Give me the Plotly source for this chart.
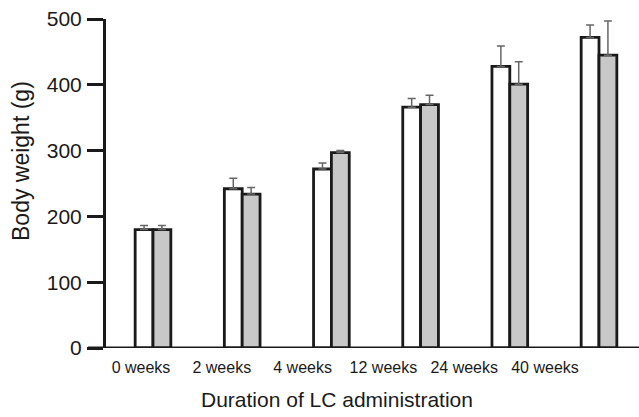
import plotly.graph_objects as go

categories = ["0 weeks", "2 weeks", "4 weeks", "12 weeks", "24 weeks", "40 weeks"]
control_vals = [180, 242, 272, 366, 428, 472]
control_err = [6, 16, 9, 13, 31, 19]
lc_vals = [180, 234, 297, 370, 401, 445]
lc_err = [6, 10, 3, 14, 34, 52]
y_ticks = [0, 100, 200, 300, 400, 500]

W, H = 639, 417
L, R, T, B = 106, 0, 19, 69
pw = W - L - R

ink = "#1a1a1a"
txt = "#1a1a1a"
font_family = "Liberation Sans, Arial, sans-serif"

fig = go.Figure()
fig.add_trace(go.Bar(
    x=categories, y=control_vals, name="Control",
    marker=dict(color="white", line=dict(color=ink, width=2.8)),
    error_y=dict(type="data", symmetric=False, array=control_err,
                 arrayminus=[0] * len(control_err), color="#666666",
                 thickness=1.5, width=4),
    showlegend=False,
))
fig.add_trace(go.Bar(
    x=categories, y=lc_vals, name="LC",
    marker=dict(color="#c8c8c8", line=dict(color=ink, width=2.8)),
    error_y=dict(type="data", symmetric=False, array=lc_err,
                 arrayminus=[0] * len(lc_err), color="#666666",
                 thickness=1.5, width=4),
    showlegend=False,
))
# label axis (category labels drawn on a separate overlaid axis)
fig.add_trace(go.Scatter(
    x=categories, y=[0] * len(categories), xaxis="x2", mode="none",
    showlegend=False, hoverinfo="skip",
))

# bar axis scale: first group centre at 153 px, last at 599 px
s1 = (599 - 153) / 5
r1 = [-(153 - L) / s1, 5 + (W - 599) / s1]
# label axis scale: first label centre 141 px, last 545 px
s2 = (545 - 141) / 5
r2 = [-(141 - L) / s2, 5 + (W - 545) / s2]

fig.update_layout(
    width=W, height=H,
    margin=dict(l=L, r=R, t=T, b=B),
    paper_bgcolor="white", plot_bgcolor="white",
    barmode="group", bargap=0.6, bargroupgap=0,
    font=dict(family=font_family, color=txt),
    xaxis=dict(type="category", range=r1, showticklabels=False,
               showline=False, ticks="", showgrid=False, zeroline=False,
               fixedrange=True),
    xaxis2=dict(type="category", range=r2, overlaying="x", side="bottom",
                anchor="y", showline=False, ticks="", showgrid=False,
                zeroline=False, tickfont=dict(size=16, color=txt),
                ticklabelstandoff=8),
    yaxis=dict(range=[0, 500], tickvals=y_ticks, ticks="outside",
               ticklen=16, tickwidth=3, tickcolor=ink, showline=True,
               linecolor=ink, linewidth=3, showgrid=False, zeroline=False,
               tickfont=dict(size=21, color=txt), ticklabelstandoff=1),
    shapes=[dict(type="line", xref="paper", yref="y",
                 x0=(88 - L) / pw, x1=1, y0=0, y1=0,
                 line=dict(color=ink, width=3), layer="above")],
    annotations=[
        dict(text="Body weight (g)", xref="paper", yref="paper",
             x=(21 - L) / pw, y=(H - B - 161) / (H - T - B),
             textangle=-90, showarrow=False, xanchor="center",
             yanchor="middle", font=dict(size=23, color=txt)),
        dict(text="Duration of LC administration", xref="paper",
             yref="paper", x=(337 - L) / pw, y=-(400 - (H - B)) / (H - T - B),
             showarrow=False, xanchor="center", yanchor="middle",
             font=dict(size=21, color=txt)),
    ],
)

fig.write_html("out.html",
               config={"displayModeBar": False, "staticPlot": True},
               post_script="document.body.style.margin='0px';")
